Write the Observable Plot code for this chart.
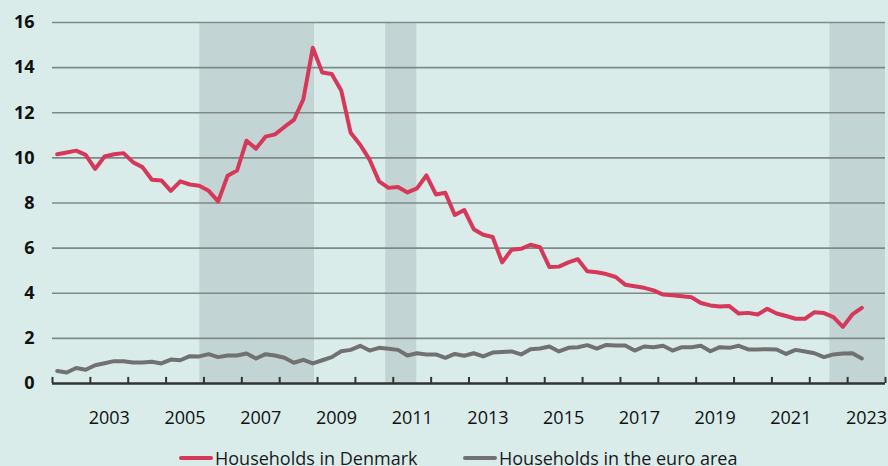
<!DOCTYPE html>
<html>
<head>
<meta charset="utf-8">
<script src="https://cdn.jsdelivr.net/npm/d3@7"></script>
<script src="https://cdn.jsdelivr.net/npm/@observablehq/plot@0.6"></script>
<style>
  html, body { margin: 0; padding: 0; background: #d9ecea; }
  body { width: 888px; height: 466px; overflow: hidden; font-family: "Open Sans", sans-serif; }
  #chart svg { display: block; }
  #legend { position: relative; height: 26px; margin-top: 5px; }
  .item { position: absolute; top: 0; display: flex; align-items: center; height: 26px; font-size: 18px; line-height: 26px; color: #1a1a1a; white-space: nowrap; }
  .sw { display: inline-block; width: 34px; height: 4px; border-radius: 2px; margin-right: 2px; }
</style>
</head>
<body>
<div id="chart"></div>
<div id="legend"></div>
<script>
// Quarterly series, 2002Q1 – 2023Q2 (per cent)
const startYear = 2002;
const denmark = [10.16,10.24,10.32,10.13,9.51,10.06,10.16,10.21,9.81,9.59,9.03,9.00,8.54,8.96,8.82,8.76,8.54,8.07,9.21,9.44,10.76,10.41,10.94,11.04,11.37,11.68,12.60,14.88,13.78,13.72,12.99,11.11,10.58,9.92,8.96,8.67,8.71,8.47,8.65,9.22,8.38,8.45,7.47,7.69,6.84,6.59,6.49,5.37,5.93,5.97,6.15,6.04,5.16,5.18,5.37,5.51,4.97,4.93,4.85,4.72,4.38,4.31,4.24,4.13,3.94,3.91,3.87,3.82,3.57,3.46,3.41,3.43,3.10,3.13,3.06,3.31,3.10,2.99,2.87,2.87,3.16,3.12,2.94,2.51,3.06,3.35];
const euroArea = [0.55,0.49,0.69,0.61,0.81,0.90,0.99,0.99,0.93,0.93,0.96,0.89,1.06,1.03,1.21,1.20,1.30,1.17,1.24,1.24,1.33,1.11,1.30,1.24,1.14,0.92,1.05,0.89,1.03,1.17,1.43,1.49,1.67,1.46,1.58,1.54,1.49,1.24,1.34,1.29,1.29,1.14,1.31,1.23,1.34,1.20,1.37,1.40,1.42,1.29,1.52,1.55,1.64,1.42,1.58,1.61,1.70,1.55,1.71,1.68,1.68,1.46,1.64,1.61,1.67,1.46,1.61,1.61,1.67,1.43,1.61,1.58,1.67,1.51,1.51,1.52,1.51,1.31,1.49,1.42,1.34,1.17,1.29,1.33,1.34,1.11];
const bandStart = [2005.89, 2010.80, 2022.53];
const bandEnd   = [2008.92, 2011.62, 2024.00];
const yTicks = [0, 2, 4, 6, 8, 10, 12, 14, 16];
const yearTicks = d3.range(2002, 2025);
const labelYears = [2003, 2005, 2007, 2009, 2011, 2013, 2015, 2017, 2019, 2021, 2023];
const seriesNames = ["Households in Denmark", "Households in the euro area"];
const seriesColors = ["#d6385a", "#717171"];

const toRows = (vals, name) => vals.map((v, i) => ({t: startYear + (i + 0.5) / 4, v, name}));
const rows = [...toRows(denmark, seriesNames[0]), ...toRows(euroArea, seriesNames[1])];
const bands = bandStart.map((s, i) => ({s, e: bandEnd[i]}));

const chart = Plot.plot({
  width: 888,
  height: 440,
  marginLeft: 52,
  marginRight: 3,
  marginTop: 22,
  marginBottom: 57,
  style: {background: "transparent", fontFamily: "Open Sans, sans-serif"},
  x: {domain: [2002, 2024], axis: null, label: null},
  y: {domain: [0, 16], axis: null, label: null},
  color: {domain: seriesNames, range: seriesColors},
  marks: [
    Plot.rectY(bands, {x1: "s", x2: "e", y1: 0, y2: 16, fill: "#c3d4d4"}),
    Plot.ruleY(yTicks.filter(d => d > 0), {stroke: "#7f8987", strokeWidth: 1.6}),
    Plot.axisY({ticks: yTicks, label: null, tickSize: 0, tickPadding: 18, fontSize: 18, fontWeight: "bold", fill: "#111", tickFormat: d => String(d)}),
    Plot.line(rows, {x: "t", y: "v", z: "name", stroke: "name", strokeWidth: 4, strokeLinejoin: "round", strokeLinecap: "round"}),
    Plot.ruleY([0], {stroke: "#333", strokeWidth: 2.5}),
    Plot.ruleX(yearTicks, {x: d => d, y1: 0, y2: 0.27, stroke: "#333", strokeWidth: 2}),
    Plot.text(labelYears, {x: d => d + 0.5, y: 0, dy: 35, text: d => String(d), fontSize: 18, fill: "#111", lineAnchor: "middle"})
  ]
});
document.getElementById("chart").appendChild(chart);

const legend = document.getElementById("legend");
const lefts = [179, 463];
seriesNames.forEach((n, i) => {
  const it = document.createElement("div");
  it.className = "item";
  it.style.left = lefts[i] + "px";
  it.innerHTML = `<span class="sw" style="background:${seriesColors[i]}"></span><span>${n}</span>`;
  legend.appendChild(it);
});
</script>
</body>
</html>
